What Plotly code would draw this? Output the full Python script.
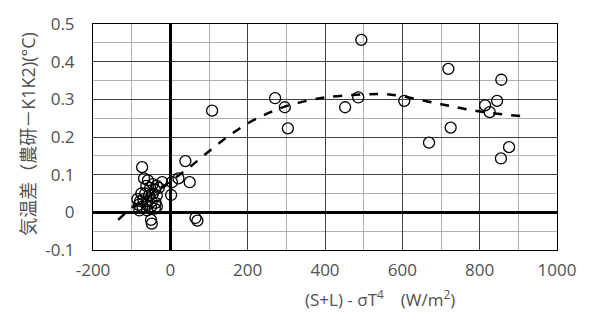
import plotly.graph_objects as go

# Observed points: x = (S+L) - sigma T^4 (W/m2), y = temperature difference (°C)
obs_x = [-73, -68, -58, -45, -35, -62, -52, -40, -30, -75, -65, -55, -45, -35,
         -85, -78, -70, -60, -48, -38, -82, -72, -62, -50, -40, -35, -80, -60,
         -50, -48, -21, 2, 4, 21, 39, 50, 65, 70, 108,
         271, 296, 304, 452, 486, 494, 605, 669, 719, 725, 814, 826, 845, 855, 856, 876]
obs_y = [0.120, 0.090, 0.085, 0.075, 0.070, 0.070, 0.065, 0.060, 0.065, 0.050, 0.050, 0.045, 0.050, 0.045,
         0.035, 0.030, 0.035, 0.030, 0.030, 0.025, 0.020, 0.015, 0.020, 0.015, 0.010, 0.015, 0.005, 0.005,
         -0.020, -0.030, 0.080, 0.046, 0.080, 0.090, 0.136, 0.080, -0.015, -0.022, 0.270,
         0.303, 0.279, 0.223, 0.279, 0.305, 0.458, 0.296, 0.185, 0.381, 0.225, 0.284, 0.266, 0.296, 0.143, 0.352, 0.173]

# Trend line
trend_x = [-135, -100, -50, 0, 50, 100, 150, 200, 250, 300, 400, 500, 550, 600, 700, 800, 910]
trend_y = [-0.020, 0.012, 0.047, 0.082, 0.120, 0.162, 0.202, 0.236, 0.262, 0.282, 0.305, 0.313, 0.314, 0.308, 0.287, 0.268, 0.255]

x_ticks = [-200, 0, 200, 400, 600, 800, 1000]
y_ticks = [-0.1, 0, 0.1, 0.2, 0.3, 0.4, 0.5]

fig = go.Figure()
fig.add_trace(go.Scatter(x=trend_x, y=trend_y, mode="lines", line=dict(color="black", width=2.5, dash="dash", shape="spline"),
                         hoverinfo="skip", showlegend=False))
fig.add_trace(go.Scatter(x=obs_x, y=obs_y, mode="markers",
                         marker=dict(symbol="circle-open", size=11, color="black", line=dict(width=1.3)),
                         showlegend=False))

fnt = "Open Sans, Noto Sans CJK JP, sans-serif"
fig.update_layout(
    width=600, height=330,
    margin=dict(l=93, r=43, t=17, b=80),
    paper_bgcolor="white", plot_bgcolor="white",
    font=dict(family=fnt, color="#505050", size=17),
    xaxis=dict(range=[-200, 1000], tickvals=x_ticks, ticktext=[str(v) for v in x_ticks],
               showgrid=True, gridcolor="#404040", gridwidth=1,
               minor=dict(dtick=100, showgrid=True, gridcolor="#b0b0b0", gridwidth=1),
               zeroline=True, zerolinecolor="black", zerolinewidth=2.5,
               showline=True, linecolor="black", linewidth=1, mirror=True,
               ticks="", tickfont=dict(size=17, color="#505050"), ticklabelstandoff=5),
    yaxis=dict(range=[-0.1, 0.5], tickvals=y_ticks, ticktext=["-0.1", "0", "0.1", "0.2", "0.3", "0.4", "0.5"],
               showgrid=True, gridcolor="#404040", gridwidth=1,
               minor=dict(dtick=0.05, showgrid=True, gridcolor="#b0b0b0", gridwidth=1),
               zeroline=True, zerolinecolor="black", zerolinewidth=2.5,
               showline=True, linecolor="black", linewidth=1, mirror=True,
               ticks="", tickfont=dict(size=17, color="#505050"), ticklabelstandoff=14),
    annotations=[
        dict(text="(S+L) - σT<sup>4</sup>　(W/m<sup>2</sup>)", xref="paper", yref="paper",
             x=0.619, y=-0.215, xanchor="center", yanchor="middle", showarrow=False,
             font=dict(size=17, color="#505050")),
        dict(text="気温差（農研－K1K2)(°C)", xref="paper", yref="paper",
             x=-0.142, y=0.515, xanchor="center", yanchor="middle", textangle=-90, showarrow=False,
             font=dict(size=18, color="#505050")),
    ],
)

fig.write_html("out.html")
